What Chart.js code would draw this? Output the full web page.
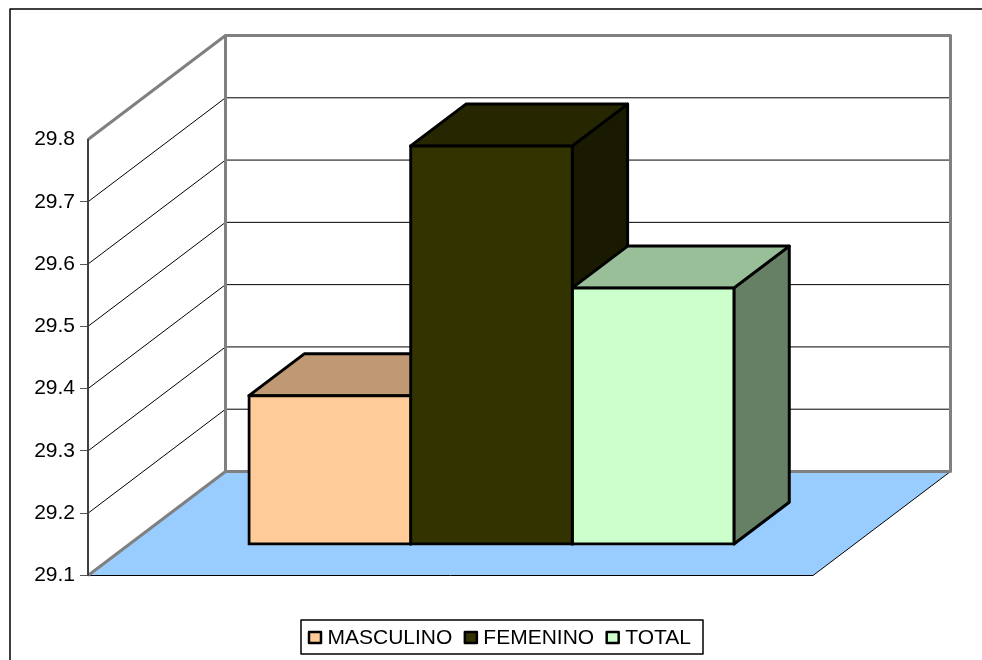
<!DOCTYPE html>
<html>
<head>
<meta charset="utf-8">
<title>Chart</title>
<script src="https://cdn.jsdelivr.net/npm/chart.js@4/dist/chart.umd.min.js"></script>
<style>
    html, body { margin: 0; padding: 0; background: #fff; }
    canvas { display: block; }
</style>
</head>
<body>
<canvas id="chart" width="982" height="660"></canvas>
<script>
const categories = [''];
const seriesNames = ['MASCULINO', 'FEMENINO', 'TOTAL'];
const masculino = [29.339];
const femenino = [29.74];
const total = [29.512];
const seriesColors = [[255, 204, 153], [51, 51, 0], [204, 255, 204]];
const yMin = 29.1;
const yMax = 29.8;
const yStep = 0.1;

// fake 3d: how far the floor runs back, and where the bars sit in that depth
const depthX = 137.5;
const depthY = 104;
const barFront = 0.298;
const barBack = 0.7;
const wallGray = '#808080';
const fontName = '"Liberation Sans", Arial, sans-serif';

function shade(rgb, k) {
    return `rgb(${rgb.map(c => Math.round(c * k)).join(',')})`;
}

function poly(ctx, pts, fill, stroke, width) {
    ctx.beginPath();
    pts.forEach((p, i) => i ? ctx.lineTo(p[0], p[1]) : ctx.moveTo(p[0], p[1]));
    if (fill) {
        ctx.closePath();
        ctx.fillStyle = fill;
        ctx.fill();
    }
    if (stroke) {
        ctx.strokeStyle = stroke;
        ctx.lineWidth = width;
        ctx.lineJoin = 'round';
        ctx.stroke();
    }
}

const walls3d = {
    id: 'walls3d',
    beforeDraw(chart) {
        const ctx = chart.ctx;
        const { left, right, top, bottom } = chart.chartArea;
        const y = chart.scales.y;
        ctx.save();

        // outer frame, only top and left fit in the picture
        poly(ctx, [[10, 660], [10, 9], [982, 9]], null, '#000', 1.5);

        poly(ctx, [[left, bottom], [right, bottom], [right + depthX, bottom - depthY], [left + depthX, bottom - depthY]], '#99CCFF');

        y.ticks.forEach(t => {
            if (t.value <= yMin || t.value >= yMax) return;
            const py = y.getPixelForValue(t.value);
            poly(ctx, [[left, py], [left + depthX, py - depthY], [right + depthX, py - depthY]], null, '#000', 1);
        });

        poly(ctx, [[left, bottom], [right, bottom], [right + depthX, bottom - depthY]], null, '#000', 1);
        poly(ctx, [[left, bottom], [left + depthX, bottom - depthY]], null, wallGray, 3);
        poly(ctx, [[left, top], [left + depthX, top - depthY]], null, wallGray, 3);
        poly(ctx, [
            [left + depthX, bottom - depthY],
            [left + depthX, top - depthY],
            [right + depthX, top - depthY],
            [right + depthX, bottom - depthY],
            [left + depthX, bottom - depthY]
        ], null, wallGray, 3);
        ctx.restore();
    },
    beforeDatasetsDraw(chart) {
        const ctx = chart.ctx;
        const dx = depthX * barFront;
        const dy = depthY * barFront;
        const bx = depthX * (barBack - barFront);
        const by = depthY * (barBack - barFront);
        ctx.save();
        // tops and sides first, the library paints the front faces over them
        seriesColors.forEach((rgb, i) => {
            const bar = chart.getDatasetMeta(i).data[0];
            const x0 = bar.x - bar.width / 2 + dx;
            const x1 = bar.x + bar.width / 2 + dx;
            const y0 = bar.y - dy;
            const y1 = bar.base - dy;
            poly(ctx, [[x1, y0], [x1 + bx, y0 - by], [x1 + bx, y1 - by], [x1, y1]], shade(rgb, 0.5), '#000', 3);
            poly(ctx, [[x0, y0], [x0 + bx, y0 - by], [x1 + bx, y0 - by], [x1, y0]], shade(rgb, 0.75), '#000', 3);
        });
        ctx.restore();
        // front faces stand inside the floor, not on its front edge
        ctx.save();
        ctx.translate(dx, -dy);
    },
    afterDatasetsDraw(chart) {
        chart.ctx.restore();
    },
    afterDraw(chart) {
        const ctx = chart.ctx;
        ctx.save();
        poly(ctx, [[301, 620], [703, 620], [703, 654], [301, 654], [301, 620]], '#fff', '#000', 1.5);
        ctx.font = '21px ' + fontName;
        ctx.textBaseline = 'alphabetic';
        let x = 308;
        seriesNames.forEach((name, i) => {
            poly(ctx, [[x + 1, 632], [x + 13, 632], [x + 13, 643], [x + 1, 643], [x + 1, 632]], shade(seriesColors[i], 1), '#000', 2.5);
            ctx.fillStyle = '#000';
            ctx.fillText(name, x + 19.5, 644);
            x += 20 + ctx.measureText(name).width + 11;
        });
        ctx.restore();
    }
};

new Chart(document.getElementById('chart'), {
    type: 'bar',
    data: {
        labels: categories,
        datasets: [masculino, femenino, total].map((values, i) => ({
            label: seriesNames[i],
            data: values,
            base: yMin,
            backgroundColor: shade(seriesColors[i], 1),
            borderColor: '#000',
            borderWidth: 3,
            borderSkipped: false,
            inflateAmount: 1.5,
            categoryPercentage: 0.669,
            barPercentage: 1,
            clip: false
        }))
    },
    options: {
        responsive: false,
        animation: false,
        events: [],
        layout: { padding: { left: 0, right: 169, top: 139.5, bottom: 84.5 } },
        plugins: {
            legend: { display: false },
            title: { display: false },
            tooltip: { enabled: false }
        },
        scales: {
            x: { display: false },
            y: {
                min: yMin,
                max: yMax,
                afterFit: axis => { axis.width = 88; },
                border: { color: '#404040', width: 2 },
                grid: {
                    drawOnChartArea: false,
                    tickLength: 8,
                    color: ctx => ctx.index === 7 ? 'rgba(0,0,0,0)' : '#555',
                    lineWidth: 1
                },
                ticks: {
                    stepSize: yStep,
                    padding: 5,
                    color: '#000',
                    font: { family: fontName, size: 21 },
                    callback: v => v.toFixed(1)
                }
            }
        }
    },
    plugins: [walls3d]
});
</script>
</body>
</html>
